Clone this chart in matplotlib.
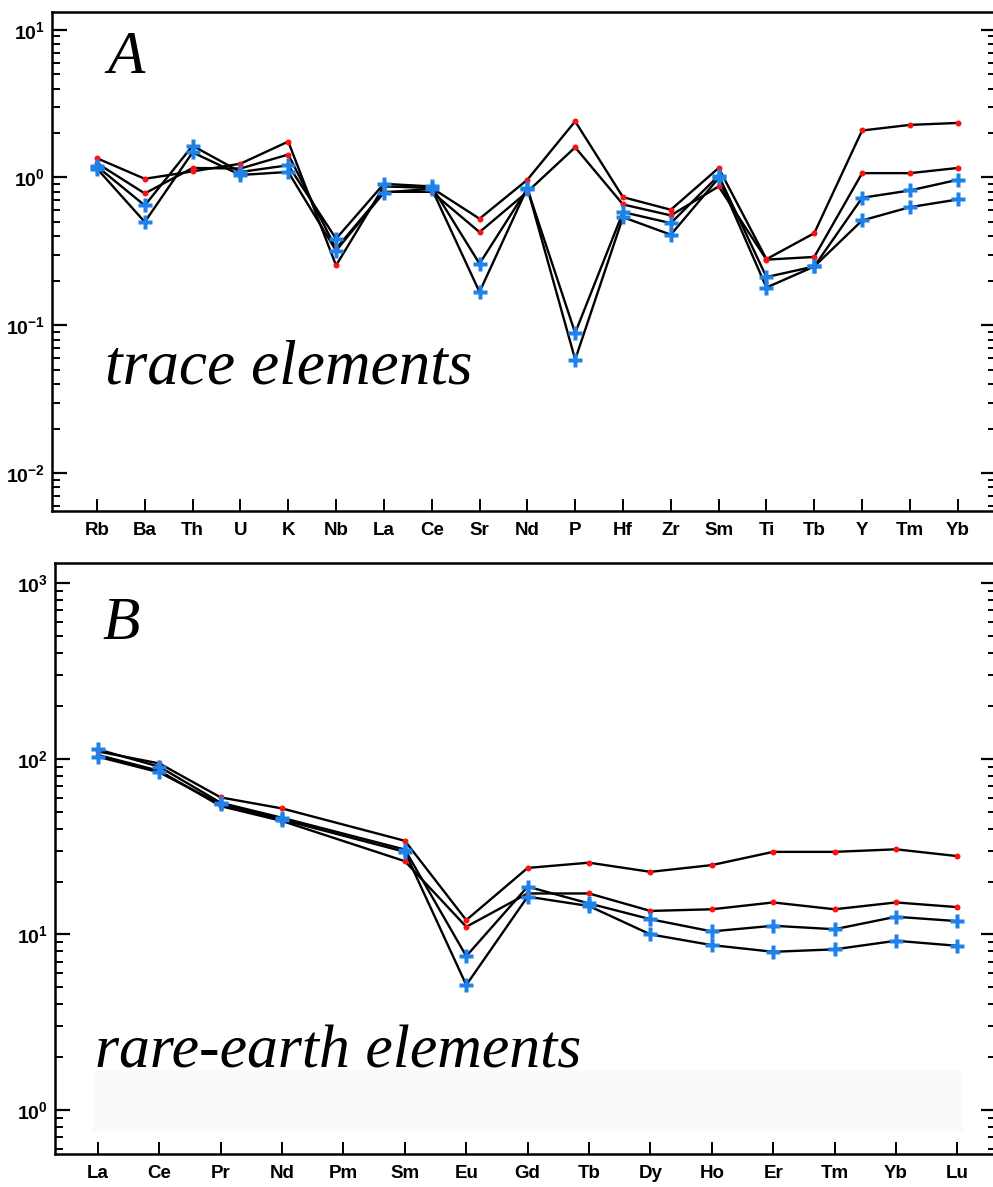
import numpy as np
import matplotlib
matplotlib.use('Agg')
import matplotlib.pyplot as plt
from matplotlib import ticker
from matplotlib.patches import Rectangle


# trace element spider diagram (panel A)
trace_names = ['Rb', 'Ba', 'Th', 'U', 'K', 'Nb', 'La', 'Ce', 'Sr', 'Nd',
               'P', 'Hf', 'Zr', 'Sm', 'Ti', 'Tb', 'Y', 'Tm', 'Yb']
trace_red1 = [1.35, 0.98, 1.10, 1.24, 1.75, 0.254, 0.87, 0.85, 0.526, 0.965,
              2.40, 0.736, 0.605, 1.16, 0.28, 0.42, 2.08, 2.27, 2.34]
trace_red2 = [1.25, 0.78, 1.16, 1.15, 1.43, 0.33, 0.80, 0.80, 0.427, 0.80,
              1.60, 0.657, 0.554, 0.87, 0.278, 0.29, 1.07, 1.07, 1.16]
trace_blue1 = [1.19, 0.647, 1.64, 1.09, 1.21, 0.385, 0.906, 0.87, 0.261, 0.84,
               0.0887, 0.583, 0.491, 1.03, 0.212, 0.25, 0.729, 0.817, 0.965]
trace_blue2 = [1.15, 0.50, 1.48, 1.04, 1.09, 0.32, 0.79, 0.84, 0.168, 0.85,
               0.0586, 0.539, 0.410, 0.99, 0.180, 0.25, 0.512, 0.63, 0.71]

# REE pattern (panel B), Pm not analysed
ree_names = ['La', 'Ce', 'Pr', 'Nd', 'Pm', 'Sm', 'Eu', 'Gd', 'Tb', 'Dy',
             'Ho', 'Er', 'Tm', 'Yb', 'Lu']
ree_red1 = [110, 94, 60.2, 52.1, None, 34.1, 12.06, 23.9, 25.6, 22.7,
            24.8, 29.5, 29.5, 30.5, 27.9]
ree_red2 = [105, 85.3, 53.7, 44.2, None, 26.1, 11.05, 17.1, 17.1, 13.6,
            13.9, 15.2, 13.9, 15.2, 14.3]
ree_blue1 = [113, 90, 56.1, 46.1, None, 30.4, 7.52, 18.7, 15.0, 12.2,
             10.4, 11.2, 10.7, 12.6, 11.9]
ree_blue2 = [102.6, 83.6, 55.0, 45.0, None, 29.5, 5.15, 16.4, 14.5, 10.0,
             8.69, 7.96, 8.22, 9.2, 8.61]

RED = '#ff1010'
BLUE = '#1e82e8'
W, H = 993, 1187

plt.rcParams['mathtext.fontset'] = 'custom'
plt.rcParams['mathtext.rm'] = 'Liberation Sans'
plt.rcParams['mathtext.bf'] = 'Liberation Sans:bold'


def drawSeries(ax, values, kind):
    x = np.array([i for i, v in enumerate(values) if v is not None])
    y = np.array([v for v in values if v is not None], dtype=float)
    ax.plot(x, y, color='black', lw=1.7, zorder=2)
    if kind == 'red':
        ax.plot(x, y, 'o', color=RED, ms=4.3, mec='none', zorder=3)
    else:
        ax.plot(x, y, 'P', color=BLUE, ms=10.5, mec='none', zorder=4)


def styleAxes(ax, names, xlim, ylim):
    ax.set_yscale('log')
    ax.set_xlim(xlim)
    ax.set_ylim(ylim)
    ax.set_xticks(range(len(names)))
    ax.set_xticklabels(names, fontfamily='Liberation Sans', fontweight='bold', fontsize=13.5)
    ax.yaxis.set_major_locator(ticker.LogLocator(base=10, numticks=10))
    ax.yaxis.set_minor_locator(ticker.LogLocator(base=10, subs=np.arange(2, 10), numticks=10))
    ax.yaxis.set_minor_formatter(ticker.NullFormatter())
    ax.yaxis.set_major_formatter(ticker.FuncFormatter(
        lambda v, p: r'$\mathbf{10^{%d}}$' % round(np.log10(v))))
    ax.tick_params(axis='y', which='major', direction='in', length=11, width=1.6,
                   left=True, right=True, labelsize=14, pad=5)
    ax.tick_params(axis='y', which='minor', direction='in', length=6, width=1.4,
                   left=True, right=True)
    ax.tick_params(axis='x', which='major', direction='in', length=9, width=1.4,
                   top=False, pad=8)
    ax.tick_params(axis='x', which='minor', bottom=False, top=False)
    for s in ax.spines.values():
        s.set_linewidth(1.8)


def label(fig, x, y, s, size=44):
    # x, y in image pixels from the top-left corner, y = baseline
    fig.text(x / W, 1 - y / H, s, fontfamily='Liberation Serif', fontstyle='italic',
             fontsize=size, va='baseline', ha='left')


def main():
    fig = plt.figure(figsize=(W / 100, H / 100), dpi=100)

    axA = fig.add_axes([52 / W, 1 - 511 / H, 944 / W, 499 / H])
    for vals, kind in [(trace_red1, 'red'), (trace_red2, 'red'),
                       (trace_blue1, 'blue'), (trace_blue2, 'blue')]:
        drawSeries(axA, vals, kind)
    styleAxes(axA, trace_names, (-0.94, 18.8), (10 ** -2.257, 10 ** 1.12))

    axB = fig.add_axes([55 / W, 1 - 1154 / H, 941 / W, 591 / H])
    axB.add_patch(Rectangle((0.04, 0.037), 0.925, 0.105, transform=axB.transAxes,
                            facecolor='#fafafd', edgecolor='none', zorder=0))
    for vals, kind in [(ree_red1, 'red'), (ree_red2, 'red'),
                       (ree_blue1, 'blue'), (ree_blue2, 'blue')]:
        drawSeries(axB, vals, kind)
    styleAxes(axB, ree_names, (-0.70, 14.63), (10 ** -0.25, 10 ** 3.114))

    label(fig, 107, 73, 'A')
    label(fig, 105, 383, 'trace elements', 45.5)
    label(fig, 102, 639, 'B')
    label(fig, 95, 1067, 'rare-earth elements', 44.5)

    plt.savefig('out.png', dpi=100)


if __name__ == "__main__":
    main()
